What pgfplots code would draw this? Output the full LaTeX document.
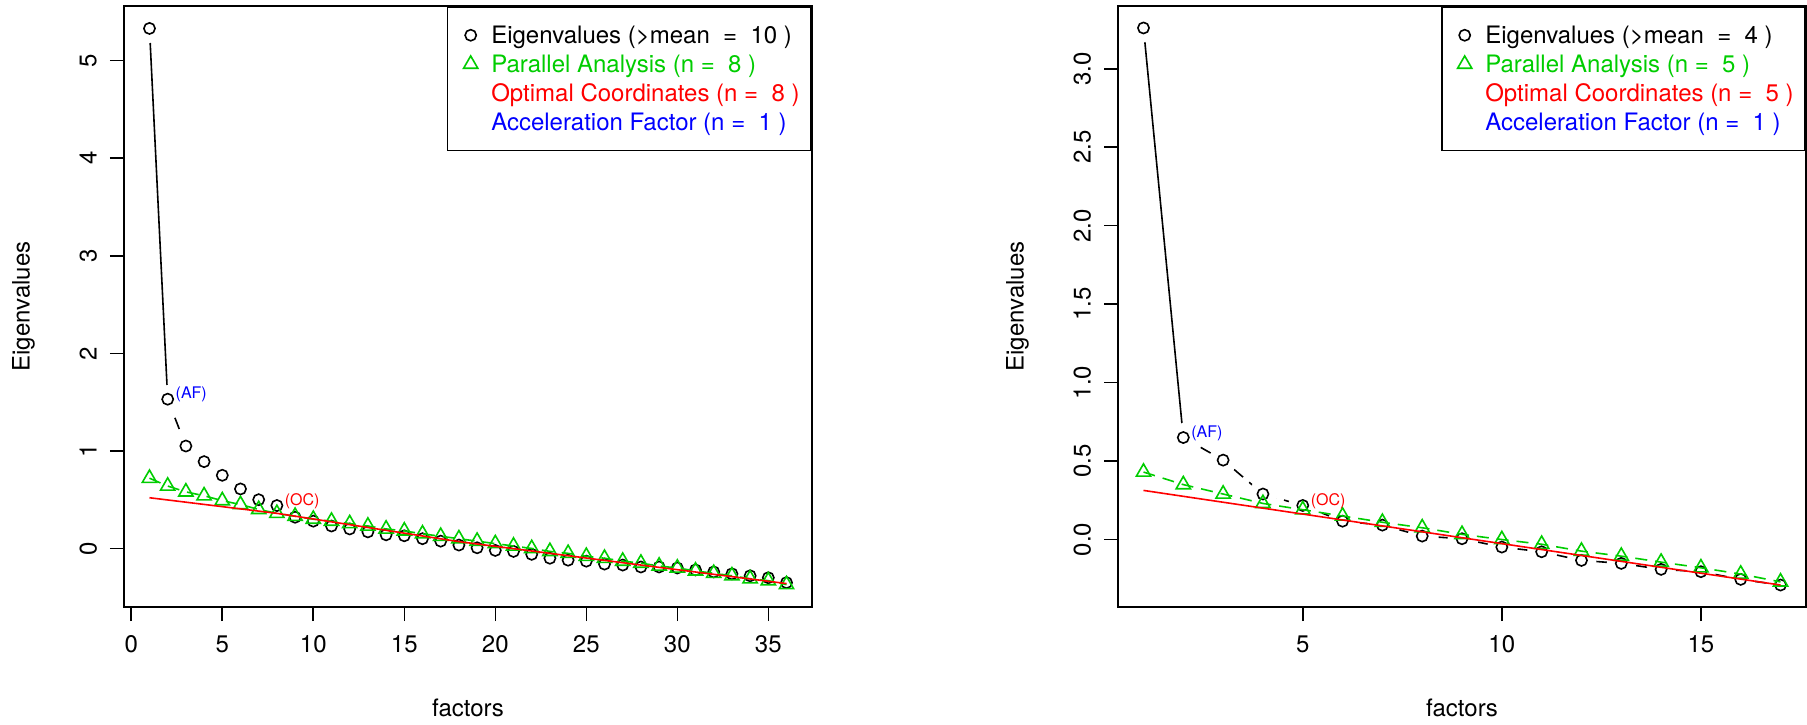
\documentclass[border=0pt]{standalone}
\usepackage{fontspec}
\setmainfont{TeX Gyre Heros}
\usepackage{pgfplots}
\pgfplotsset{compat=1.18}
\definecolor{rgreen}{RGB}{0,205,0}

\pgfplotsset{
  scree/.style={
    scale only axis, width=344pt, height=300.5pt,
    axis on top, clip=true, clip marker paths=true,
    axis line style={line width=0.8pt},
    tick align=outside, major tick length=7pt,
    xtick pos=bottom, ytick pos=left,
    tick style={black, line width=0.8pt},
    /pgf/number format/assume math mode=true,
    tick label style={font=\fontsize{12}{14.4}\selectfont},
    label style={font=\fontsize{12}{14.4}\selectfont},
    xticklabel style={anchor=center, yshift=-11.7pt},
    yticklabel style={xshift=-10.9pt, rotate=90, anchor=center},
    xlabel={factors}, ylabel={Eigenvalues},
    xlabel style={at={(axis description cs:0.5,-0.168)}, anchor=center},
    ylabel style={at={(axis description cs:-0.146,0.5)}, anchor=center},
    legend style={at={(1,1)}, anchor=north east, draw=black, line width=0.8pt,
      font=\fontsize{12}{14.4}\selectfont, inner xsep=5.8pt, inner ysep=7pt,
      row sep=0pt, column sep=0pt,
      nodes={inner sep=0pt, text height=11.5pt, text depth=2.95pt}},
    legend cell align=left,
  },
  legcirc/.style={legend image code/.code={\path[draw=none, fill=none] (0pt,-3pt) rectangle (16pt,3pt);
    \draw[black, line width=0.8pt] plot[mark=o, mark size=2.8pt] coordinates {(5.7pt,0pt)};}},
  legtri/.style={legend image code/.code={\path[draw=none, fill=none] (0pt,-3pt) rectangle (16pt,3pt);
    \draw[rgreen, line width=0.8pt] plot[mark=triangle, mark size=4.1pt] coordinates {(5.7pt,0pt)};}},
  legnone/.style={legend image code/.code={\path[draw=none, fill=none] (0pt,-3pt) rectangle (16pt,3pt);}},
  eigline/.style={black, line width=0.8pt, forget plot},
  mask/.style={white, only marks, mark=*, mark size=7pt, mark options={draw=white, fill=white}, forget plot},
  eigmark/.style={only marks, mark=o, mark size=2.8pt, mark options={black, line width=0.8pt}, forget plot},
  paline/.style={rgreen, line width=0.8pt, dash pattern=on 6pt off 4pt, forget plot},
  pamark/.style={only marks, mark=triangle, mark size=4.1pt, mark options={rgreen, line width=0.8pt, solid}, forget plot},
  ocline/.style={red, line width=0.8pt, forget plot},
}
\tikzset{note/.style={anchor=west, inner sep=0pt, font=\fontsize{8}{9.6}\selectfont}}

\pgfplotstableread{
x eig pa
1 5.33 0.72
2 1.53 0.64
3 1.05 0.58
4 0.89 0.54
5 0.75 0.49
6 0.61 0.45
7 0.50 0.40
8 0.44 0.36
9 0.32 0.33
10 0.28 0.30
11 0.23 0.28
12 0.20 0.255
13 0.17 0.23
14 0.14 0.20
15 0.13 0.18
16 0.10 0.15
17 0.075 0.125
18 0.035 0.10
19 0.007 0.075
20 -0.02 0.05
21 -0.03 0.025
22 -0.06 0.00
23 -0.10 -0.03
24 -0.12 -0.05
25 -0.13 -0.08
26 -0.16 -0.10
27 -0.17 -0.13
28 -0.19 -0.15
29 -0.19 -0.18
30 -0.20 -0.20
31 -0.22 -0.23
32 -0.24 -0.255
33 -0.26 -0.28
34 -0.28 -0.31
35 -0.30 -0.33
36 -0.35 -0.37
}\leftdata

\pgfplotstableread{
x eig pa
1 3.26 0.43
2 0.65 0.35
3 0.506 0.29
4 0.29 0.23
5 0.217 0.19
6 0.117 0.15
7 0.092 0.11
8 0.022 0.075
9 0.005 0.033
10 -0.048 0.00
11 -0.078 -0.03
12 -0.133 -0.074
13 -0.152 -0.106
14 -0.19 -0.144
15 -0.205 -0.18
16 -0.254 -0.22
17 -0.29 -0.27
}\rightdata

\begin{document}
\begin{tikzpicture}
\useasboundingbox (0,0) rectangle (903.5pt,362pt);

% left panel
\begin{axis}[scree, at={(62pt,58.5pt)}, anchor=south west,
  xmin=-0.4, xmax=37.4, ymin=-0.6, ymax=5.56,
  xtick={0,5,...,35}, ytick={0,1,2,3,4,5}]
  \addlegendimage{legcirc}
  \addlegendentry{Eigenvalues (>mean\ \ =\ \ 10 )}
  \addlegendimage{legtri}
  \addlegendentry[text=rgreen]{Parallel Analysis (n =\ \ 8 )}
  \addlegendimage{legnone}
  \addlegendentry[text=red]{Optimal Coordinates (n =\ \ 8 )}
  \addlegendimage{legnone}
  \addlegendentry[text=blue]{Acceleration Factor (n =\ \ 1 )}

  \addplot[eigline] coordinates {(1,5.33) (2,1.53)};
  \addplot[eigline, dash pattern=on 6pt off 4pt] table[x=x, y=eig, skip coords between index={0}{1}] {\leftdata};
  \addplot[mask] table[x=x, y=eig] {\leftdata};
  \addplot[eigmark] table[x=x, y=eig] {\leftdata};
  \addplot[paline] table[x=x, y=pa] {\leftdata};
  \addplot[pamark] table[x=x, y=pa] {\leftdata};
  \addplot[ocline] coordinates {(1,0.52) (8,0.36) (18,0.07) (28,-0.17) (36,-0.36)};
  \node[note, blue] at (axis cs:2,1.53) [xshift=3.8pt, yshift=2.2pt] {(AF)};
  \node[note, red] at (axis cs:8,0.44) [xshift=3.8pt, yshift=2.2pt] {(OC)};
\end{axis}

% right panel
\begin{axis}[scree, at={(559pt,58.5pt)}, anchor=south west,
  xmin=0.36, xmax=17.64, ymin=-0.43, ymax=3.40,
  xtick={5,10,15}, ytick={0,0.5,...,3.0},
  yticklabel style={/pgf/number format/.cd, fixed, fixed zerofill, precision=1}]
  \addlegendimage{legcirc}
  \addlegendentry{Eigenvalues (>mean\ \ =\ \ 4 )}
  \addlegendimage{legtri}
  \addlegendentry[text=rgreen]{Parallel Analysis (n =\ \ 5 )}
  \addlegendimage{legnone}
  \addlegendentry[text=red]{Optimal Coordinates (n =\ \ 5 )}
  \addlegendimage{legnone}
  \addlegendentry[text=blue]{Acceleration Factor (n =\ \ 1 )}

  \addplot[eigline] coordinates {(1,3.26) (2,0.65)};
  \addplot[eigline, dash pattern=on 6pt off 4pt] table[x=x, y=eig, skip coords between index={0}{1}] {\rightdata};
  \addplot[mask] table[x=x, y=eig] {\rightdata};
  \addplot[eigmark] table[x=x, y=eig] {\rightdata};
  \addplot[paline] table[x=x, y=pa] {\rightdata};
  \addplot[pamark] table[x=x, y=pa] {\rightdata};
  \addplot[ocline] coordinates {(1,0.313) (17,-0.29)};
  \node[note, blue] at (axis cs:2,0.65) [xshift=3.8pt, yshift=2.2pt] {(AF)};
  \node[note, red] at (axis cs:5,0.217) [xshift=3.8pt, yshift=2.3pt] {(OC)};
\end{axis}
\end{tikzpicture}
\end{document}
